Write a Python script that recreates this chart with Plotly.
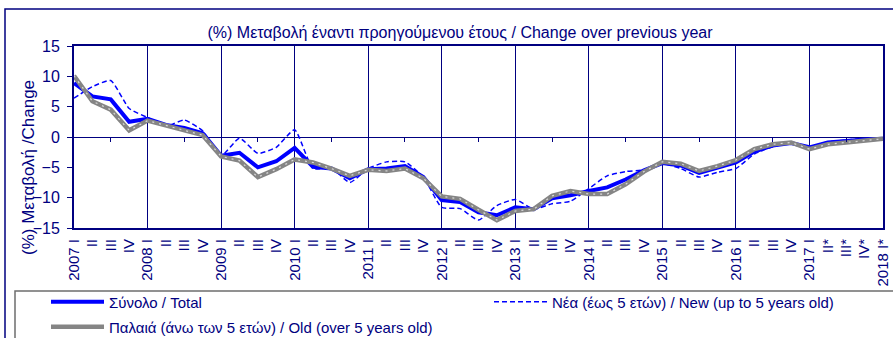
import plotly.graph_objects as go

NAVY = "#000080"
BLUE = "#0000FF"
GREY = "#858585"
FONT = "Arial, 'Liberation Sans', sans-serif"

# Quarterly periods 2007 I .. 2018 I (provisional quarters carry an asterisk)
years = list(range(2007, 2018))
quarter_names = ["I", "II", "III", "IV"]
periods = [f"{y} {q}" for y in years for q in quarter_names] + ["2018 I"]
provisional = ["2017 II", "2017 III", "2017 IV", "2018 I"]

# Year-on-year change (%)
total_change = [8.9, 6.7, 6.2, 2.5, 3.0, 2.0, 1.5, 0.6, -3.1, -2.6, -5.0, -4.0,
                -1.8, -4.9, -5.2, -6.8, -5.3, -5.2, -4.8, -6.6, -10.4, -10.7, -12.4, -12.9,
                -11.6, -11.9, -10.1, -9.6, -8.9, -8.3, -7.0, -5.5, -4.3, -4.7, -5.9, -5.1,
                -4.2, -2.4, -1.4, -1.0, -1.7, -0.9, -0.6, -0.4, -0.3]
new_change = [6.4, 8.3, 9.3, 4.7, 3.2, 1.8, 2.8, 1.0, -3.1, -0.2, -2.7, -1.7,
              1.2, -5.2, -5.1, -7.5, -5.2, -4.1, -4.1, -6.6, -11.6, -11.8, -13.7, -11.3,
              -10.3, -11.9, -11.0, -10.6, -8.5, -6.4, -5.7, -5.4, -4.4, -5.2, -6.6, -5.8,
              -5.2, -2.8, -1.6, -1.0, -1.6, -0.8, -0.5, -0.3, -0.3]
old_change = [10.1, 5.9, 4.5, 1.1, 2.7, 1.9, 1.0, 0.3, -3.2, -3.9, -6.6, -5.3,
              -3.7, -4.2, -5.2, -6.4, -5.4, -5.6, -5.2, -6.8, -9.8, -10.2, -12.0, -13.7,
              -12.2, -11.9, -9.7, -8.9, -9.4, -9.4, -7.8, -5.7, -4.1, -4.4, -5.6, -4.8,
              -3.8, -2.0, -1.2, -0.9, -2.0, -1.2, -0.9, -0.6, -0.3]

tick_text = []
for p in periods:
    yr, q = p.split()
    label = p if q == "I" else q
    if p in provisional:
        label += "*"
    tick_text.append(label)

last = len(periods) - 1
year_starts = [i for i, p in enumerate(periods) if p.endswith(" I")]
third_quarters = [i for i, p in enumerate(periods) if p.endswith(" III")]

fig = go.Figure()

fig.add_trace(go.Scatter(
    x=periods, y=new_change, mode="lines",
    name="Νέα (έως 5 ετών) / New (up to 5 years old)",
    line=dict(color=BLUE, width=1.5, dash="5px,3px", shape="spline", smoothing=0.5),
    legend="legend2", legendrank=2, cliponaxis=False,
))
fig.add_trace(go.Scatter(
    x=periods, y=total_change, mode="lines",
    name="Σύνολο / Total",
    line=dict(color=BLUE, width=4),
    legend="legend", legendrank=1, cliponaxis=False,
))
fig.add_trace(go.Scatter(
    x=periods, y=old_change, mode="lines",
    name="Παλαιά (άνω των 5 ετών) / Old (over 5 years old)",
    line=dict(color=GREY, width=4.5),
    legend="legend3", legendrank=3, cliponaxis=False,
))
# light speckle running along the grey line
fig.add_trace(go.Scatter(
    x=periods, y=old_change, mode="lines", showlegend=False, hoverinfo="skip",
    line=dict(color="#d8d8d8", width=1.2, dash="2px,5px"), cliponaxis=False,
))
# invisible carriers so the helper axes (year gridlines, zero-line ticks) get drawn
for ax in ("x2", "x3"):
    fig.add_trace(go.Scatter(
        x=[0, last], y=[0, 0], xaxis=ax, yaxis="y", mode="lines",
        line=dict(width=0), showlegend=False, hoverinfo="skip",
    ))

W, H = 893, 338
L, R, T, B = 74, 10, 46, 110
pw, ph = W - L - R, H - T - B


def px_x(px):
    return (px - L) / pw


def px_y(py):
    return (H - B - py) / ph


legend_common = dict(
    xanchor="left", yanchor="middle", bgcolor="rgba(0,0,0,0)", borderwidth=0,
    font=dict(family=FONT, size=15, color=NAVY), itemwidth=53,
)

fig.update_layout(
    width=W, height=H,
    margin=dict(l=L, r=R, t=T, b=B, autoexpand=False),
    paper_bgcolor="white", plot_bgcolor="white",
    font=dict(family=FONT, color=NAVY, size=15),
    title=dict(
        text="(%) Μεταβολή έναντι προηγούμενου έτους / Change over previous year",
        x=px_x(460), xref="paper", xanchor="center",
        y=1 - 32 / H, yref="container", yanchor="middle",
        font=dict(family=FONT, size=16, color=NAVY),
    ),
    xaxis=dict(
        type="category", range=[0, last],
        tickmode="array", tickvals=periods, ticktext=tick_text,
        tickangle=-90, tickfont=dict(size=15, color=NAVY), ticklabelstandoff=3,
        showgrid=False, zeroline=False, ticks="",
        showline=True, linecolor=NAVY, linewidth=2, mirror=True,
    ),
    xaxis2=dict(
        overlaying="x", anchor="y", type="linear", range=[0, last],
        tickmode="array", tickvals=year_starts,
        showgrid=True, gridcolor=NAVY, gridwidth=1,
        showticklabels=False, ticks="", showline=False, zeroline=False,
    ),
    xaxis3=dict(
        overlaying="x", anchor="free", position=0.5, side="bottom",
        type="linear", range=[0, last],
        tickmode="array", tickvals=third_quarters,
        ticks="outside", ticklen=4, tickwidth=1, tickcolor=NAVY,
        showticklabels=False, showgrid=False, showline=False, zeroline=False,
    ),
    yaxis=dict(
        range=[-15, 15], tickmode="array", tickvals=[-15, -10, -5, 0, 5, 10, 15],
        ticks="outside", ticklen=5, tickcolor=NAVY, tickwidth=1,
        tickfont=dict(size=16, color=NAVY), ticklabelstandoff=4,
        showgrid=False, zeroline=True, zerolinecolor=NAVY, zerolinewidth=1,
        showline=True, linecolor=NAVY, linewidth=2, mirror=True,
    ),
    legend=dict(x=px_x(46), y=px_y(302), **legend_common),
    legend2=dict(x=px_x(489), y=px_y(302), **legend_common),
    legend3=dict(x=px_x(46), y=px_y(327), **legend_common),
    annotations=[dict(
        text="(%) Μεταβολή /Change", textangle=-90,
        xref="paper", yref="paper", x=px_x(28), y=px_y(168),
        xanchor="center", yanchor="middle", showarrow=False,
        font=dict(family=FONT, size=17, color=NAVY),
    )],
    shapes=[
        # outer chart frame
        dict(type="rect", xref="paper", yref="paper",
             x0=px_x(5), y0=px_y(9), x1=px_x(905), y1=px_y(350),
             line=dict(color=NAVY, width=1.5), layer="below"),
        # legend box
        dict(type="rect", xref="paper", yref="paper",
             x0=px_x(15), y0=px_y(291), x1=px_x(905), y1=px_y(350),
             line=dict(color="#6e6e6e", width=1.5), layer="below"),
    ],
    showlegend=True,
)

fig.write_html("out.html")
